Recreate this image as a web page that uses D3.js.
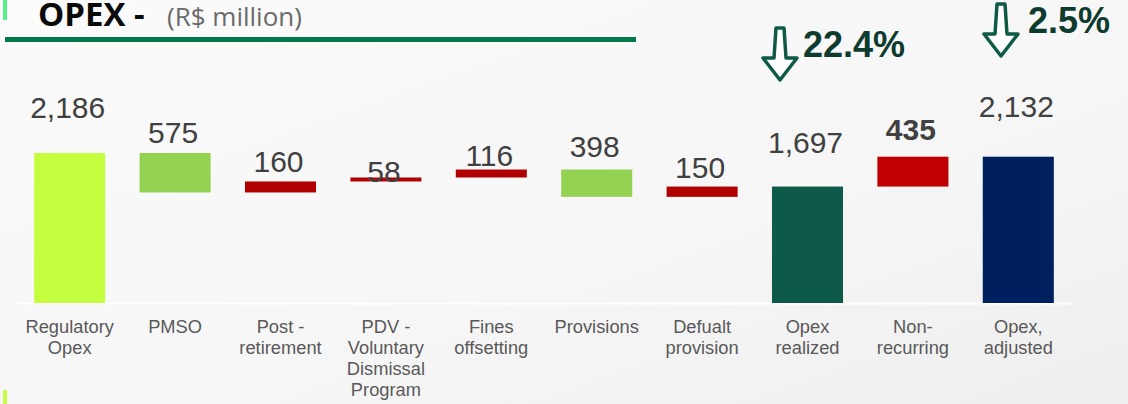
<!DOCTYPE html>
<html>
<head>
<meta charset="utf-8">
<script src="https://cdn.jsdelivr.net/npm/d3@7"></script>
<style>
  body { margin: 0; background: #f7f7f7; }
  svg { display: block; }
</style>
</head>
<body>
<script>
var w = 1128;
var h = 404;

// data
var categories = [
  "Regulatory\nOpex", "PMSO", "Post -\nretirement", "PDV -\nVoluntary\nDismissal\nProgram",
  "Fines\noffsetting", "Provisions", "Defualt\nprovision", "Opex\nrealized",
  "Non-\nrecurring", "Opex,\nadjusted"
];
var values = [2186, 575, 160, 58, 116, 398, 150, 1697, 435, 2132];
var steps = ["total", "down", "up", "up", "up", "down", "up", "total", "up", "total"];
var valueLabels = ["2,186", "575", "160", "58", "116", "398", "150", "1,697", "435", "2,132"];
var changeLabels = ["22.4%", "2.5%"];

// style / layout
var colors = ["#c5fd3f", "#93d150", "#b00000", "#b00000", "#b00000", "#93d150", "#b00000", "#0d5a49", "#c00000", "#001f5e"];
var labelGap = [35, 10, 9, -5, 4, 13, 9, 34, 17, 40];
var baseY = 303;

// build waterfall segments
var running = 0;
var bars = values.map(function (v, i) {
  var lo, hi;
  if (steps[i] == "total") { lo = 0; hi = v; running = v; }
  else if (steps[i] == "down") { hi = running; lo = running - v; running = lo; }
  else { lo = running; hi = running + v; running = hi; }
  return { i: i, lo: lo, hi: hi };
});

var xScale = d3.scaleBand().domain(d3.range(categories.length)).range([17, 1071]).paddingInner(0.326).paddingOuter(0.163);
var yScale = d3.scaleLinear().domain([0, 2186]).range([baseY, 153]);

var svg = d3.select("body").append("svg").attr("width", w).attr("height", h);

var defs = svg.append("defs");
var grad = defs.append("linearGradient").attr("id", "bg").attr("x1", "0").attr("y1", "0").attr("x2", "1").attr("y2", "1");
grad.append("stop").attr("offset", "0").attr("stop-color", "#fbfbfb");
grad.append("stop").attr("offset", "0.6").attr("stop-color", "#f6f6f6");
grad.append("stop").attr("offset", "1").attr("stop-color", "#eeeeee");
svg.append("rect").attr("width", w).attr("height", h).attr("fill", "url(#bg)");

// side marks
svg.append("rect").attr("x", 3).attr("y", 0).attr("width", 4).attr("height", 20).attr("fill", "#55f28a");
svg.append("rect").attr("x", 3).attr("y", 390).attr("width", 4).attr("height", 14).attr("fill", "#c5fd3f");

// title
var title = svg.append("text").attr("y", 26).style("font-family", "'Open Sans', sans-serif");
title.append("tspan").attr("x", 38).text("OPEX -").attr("font-weight", "bold").attr("font-size", 33).attr("fill", "#0a0a0a");
title.append("tspan").attr("x", 167).text("(R$ million)").attr("font-size", 26).attr("fill", "#6a6a6a");
svg.append("rect").attr("x", 5).attr("y", 37).attr("width", 631).attr("height", 5).attr("fill", "#007a4b");

// baseline
svg.append("line").attr("x1", 17).attr("x2", 1071).attr("y1", baseY + 0.5).attr("y2", baseY + 0.5)
  .attr("stroke", "#ffffff").attr("stroke-width", 2);

// bars
svg.selectAll("rect.bar").data(bars).enter().append("rect").attr("class", "bar")
  .attr("x", function (d) { return xScale(d.i); })
  .attr("width", xScale.bandwidth())
  .attr("y", function (d) { return yScale(d.hi); })
  .attr("height", function (d) { return yScale(d.lo) - yScale(d.hi); })
  .attr("fill", function (d) { return colors[d.i]; });

// value labels
svg.selectAll("text.val").data(bars).enter().append("text").attr("class", "val")
  .attr("x", function (d) { return xScale(d.i) + xScale.bandwidth() / 2 - 2; })
  .attr("y", function (d) { return yScale(d.hi) - labelGap[d.i]; })
  .attr("text-anchor", "middle")
  .style("font-family", "'Liberation Sans', Arial, sans-serif")
  .attr("font-size", 30)
  .attr("font-weight", function (d) { return d.i == 8 ? "bold" : "normal"; })
  .attr("fill", "#404040")
  .text(function (d) { return valueLabels[d.i]; });

// category labels
var cat = svg.selectAll("text.cat").data(categories).enter().append("text").attr("class", "cat")
  .attr("x", function (d, i) { return xScale(i) + xScale.bandwidth() / 2; })
  .attr("y", 333)
  .attr("text-anchor", "middle")
  .style("font-family", "'Liberation Sans', Arial, sans-serif")
  .attr("font-size", 18.3)
  .attr("fill", "#595959");
cat.selectAll("tspan").data(function (d) { return d.split("\n"); }).enter().append("tspan")
  .attr("x", function () { return d3.select(this.parentNode).attr("x"); })
  .attr("dy", function (d, j) { return j == 0 ? 0 : 21; })
  .text(function (d) { return d; });

// change arrows
function arrow(cx, top) {
  var p = d3.path();
  p.moveTo(cx - 4, top);
  p.lineTo(cx + 4, top);
  p.lineTo(cx + 6, top + 30);
  p.lineTo(cx + 17, top + 30);
  p.lineTo(cx, top + 52);
  p.lineTo(cx - 17, top + 30);
  p.lineTo(cx - 6, top + 30);
  p.closePath();
  return p.toString();
}
var arrows = [{ cx: 780, top: 28, tx: 803, ty: 57 }, { cx: 1001, top: 4, tx: 1028, ty: 33 }];
svg.selectAll("path.arrow").data(arrows).enter().append("path").attr("class", "arrow")
  .attr("d", function (d) { return arrow(d.cx, d.top); })
  .attr("fill", "#ffffff").attr("stroke", "#0f5a47").attr("stroke-width", 3.5).attr("stroke-linejoin", "round");
svg.selectAll("text.chg").data(arrows).enter().append("text").attr("class", "chg")
  .attr("x", function (d) { return d.tx; })
  .attr("y", function (d) { return d.ty; })
  .style("font-family", "'Liberation Sans', Arial, sans-serif")
  .attr("font-size", 36).attr("font-weight", "bold").attr("fill", "#0d3b2e")
  .text(function (d, i) { return changeLabels[i]; });
</script>
</body>
</html>
